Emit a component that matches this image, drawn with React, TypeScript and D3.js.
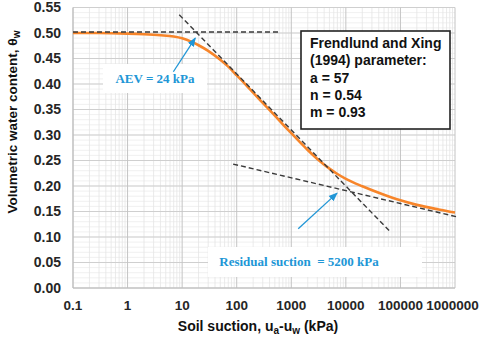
import React from 'react';
import * as d3 from 'd3';

// SWCC (suction in kPa, volumetric water content)
const suction = [0.1, 0.3, 1, 2, 4, 7, 10, 15, 20, 30, 50, 70, 100, 150, 200, 300, 500, 700,
  1000, 1500, 2000, 3000, 5000, 7000, 10000, 20000, 50000, 100000, 200000, 500000, 1000000];
const theta = [0.5, 0.5, 0.4988, 0.4975, 0.4955, 0.493, 0.4895, 0.4825, 0.476, 0.465, 0.4475, 0.434,
  0.417, 0.3975, 0.383, 0.363, 0.338, 0.321, 0.3035, 0.284, 0.2705, 0.253, 0.234, 0.2235, 0.214,
  0.1995, 0.183, 0.172, 0.163, 0.154, 0.148];

// construction lines (dashed)
const satLine = [[0.1, 0.502], [580, 0.502]];
const steepLine = [[8.85, 0.5357], [67600, 0.1085]];
const residualLine = [[86, 0.243], [1140000, 0.139]];

// annotation arrows [tail, tip]
const aevArrow = [[6.9, 0.424], [17.4, 0.49]];
const resArrow = [[1340, 0.116], [6900, 0.186]];

const xTicks = [0.1, 1, 10, 100, 1000, 10000, 100000, 1000000];
const xTickLabels = ['0.1', '1', '10', '100', '1000', '10000', '100000', '1000000'];
const yTicks = [0, 0.05, 0.1, 0.15, 0.2, 0.25, 0.3, 0.35, 0.4, 0.45, 0.5, 0.55];

const legendLines = ['Frendlund and Xing', '(1994) parameter:', 'a = 57', 'n = 0.54', 'm = 0.93'];

const W = 484;
const H = 343;
const margin = { top: 7.5, right: 29, bottom: 55, left: 73 };
const SANS = '"Liberation Sans", Arial, sans-serif';
const SERIF = '"Liberation Serif", "Times New Roman", serif';
const BLUE = '#2196d6';

export default function App() {
  const x = d3.scaleLog().domain([0.1, 1000000]).range([margin.left, W - margin.right]);
  const y = d3.scaleLinear().domain([0, 0.55]).range([H - margin.bottom, margin.top]);

  const minorX: number[] = [];
  for (let e = -1; e < 6; e++) {
    for (let k = 2; k <= 9; k++) minorX.push(k * Math.pow(10, e));
  }
  const minorY = d3.range(0, 56).map(i => i / 100);

  const curve = d3.line<number>()
    .x((_, i) => x(suction[i]))
    .y(d => y(d))
    .curve(d3.curveMonotoneX);

  const seg = (pts: number[][]) => d3.line<number[]>().x(d => x(d[0])).y(d => y(d[1]))(pts) as string;

  const x0 = margin.left, x1 = W - margin.right;
  const y0 = H - margin.bottom, y1 = margin.top;

  return (
    <svg width={W} height={H} style={{ display: 'block' }}>
      <style>{`body{margin:0}`}</style>
      <defs>
        <marker id="ah" viewBox="0 0 10 10" refX="9" refY="5" markerWidth="7" markerHeight="7" orient="auto">
          <path d="M0,1 L10,5 L0,9 Z" fill={BLUE} />
        </marker>
      </defs>
      <rect width={W} height={H} fill="#fff" />

      {/* minor grid */}
      {minorY.map(v => (
        <line key={'my' + v} x1={x0} x2={x1} y1={y(v)} y2={y(v)} stroke="#ececec" strokeWidth={0.8} />
      ))}
      {minorX.map(v => (
        <line key={'mx' + v} x1={x(v)} x2={x(v)} y1={y0} y2={y1} stroke="#e4e4e4" strokeWidth={0.8} />
      ))}
      {/* major grid */}
      {yTicks.map(v => (
        <line key={'gy' + v} x1={x0} x2={x1} y1={y(v)} y2={y(v)} stroke="#cfcfcf" strokeWidth={1} />
      ))}
      {xTicks.map(v => (
        <line key={'gx' + v} x1={x(v)} x2={x(v)} y1={y0} y2={y1} stroke="#c4c4c4" strokeWidth={1} />
      ))}
      <line x1={x0} x2={x0} y1={y0} y2={y1} stroke="#bdbdbd" />
      <line x1={x0} x2={x1} y1={y0} y2={y0} stroke="#bdbdbd" />

      {/* tick labels */}
      {yTicks.map(v => (
        <text key={'ty' + v} x={x0 - 12} y={y(v)} dy="0.35em" textAnchor="end"
          fontFamily={SANS} fontWeight="bold" fontSize={14} fill="#262626">{v.toFixed(2)}</text>
      ))}
      {xTicks.map((v, i) => (
        <text key={'tx' + v} x={x(v) - (i === xTicks.length - 1 ? 2.5 : 0)} y={310} textAnchor="middle"
          fontFamily={SANS} fontWeight="bold" fontSize={13.5} fill="#262626">{xTickLabels[i]}</text>
      ))}

      {/* axis titles */}
      <text x={258} y={331} textAnchor="middle" fontFamily={SANS} fontWeight="bold" fontSize={14} fill="#111">
        Soil suction, u<tspan dy={3} fontSize={10}>a</tspan><tspan dy={-3}>-u</tspan>
        <tspan dy={3} fontSize={10}>w</tspan><tspan dy={-3}> (kPa)</tspan>
      </text>
      <text transform="translate(17,122) rotate(-90)" textAnchor="middle" fontFamily={SANS}
        fontWeight="bold" fontSize={13.5} fill="#111">
        Volumetric water content, θ<tspan dy={3} fontSize={10}>w</tspan>
      </text>

      {/* annotation boxes */}
      <rect x={103} y={64} width={104} height={29} fill="#fff" />
      <rect x={208} y={247} width={214} height={30} fill="#fff" />

      {/* curve */}
      <path d={curve(theta) as string} fill="none" stroke="#f7852a" strokeWidth={2.6} />

      {/* construction lines */}
      {[satLine, steepLine, residualLine].map((l, i) => (
        <path key={'dl' + i} d={seg(l)} fill="none" stroke="#3a3a3a" strokeWidth={1.4} strokeDasharray="5,3" />
      ))}

      {/* arrows */}
      {[aevArrow, resArrow].map((a, i) => (
        <path key={'ar' + i} d={seg(a)} fill="none" stroke={BLUE} strokeWidth={1.3} markerEnd="url(#ah)" />
      ))}

      <text x={155} y={78} dy="0.35em" textAnchor="middle" fontFamily={SERIF} fontWeight="bold"
        fontSize={13} fill={BLUE}>AEV = 24 kPa</text>
      <text x={299} y={261} dy="0.35em" textAnchor="middle" fontFamily={SERIF} fontWeight="bold"
        fontSize={13} fill={BLUE} style={{ whiteSpace: 'pre' }}>Residual suction  = 5200 kPa</text>

      {/* legend box */}
      <rect x={301} y={31} width={149} height={98} fill="#fff" stroke="#222" strokeWidth={1.6} />
      {legendLines.map((t, i) => (
        <text key={'lg' + i} x={310} y={48 + i * 17.3} fontFamily={SANS} fontWeight="bold"
          fontSize={14} fill="#111">{t}</text>
      ))}
    </svg>
  );
}
